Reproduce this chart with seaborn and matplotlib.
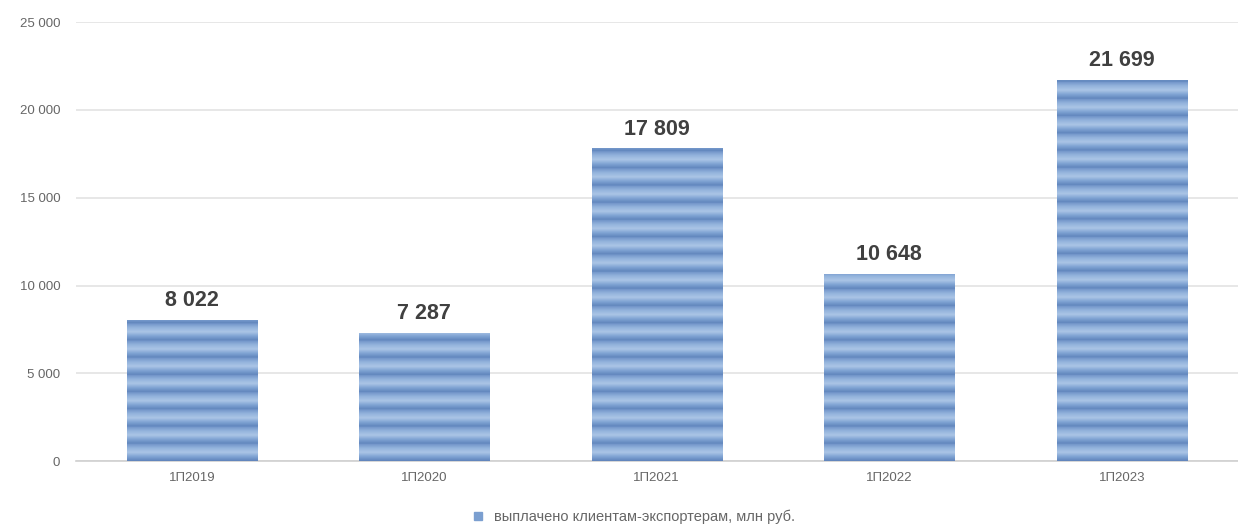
import numpy as np
import pandas as pd
import matplotlib
matplotlib.use("Agg")
import matplotlib.pyplot as plt
import seaborn as sns
from matplotlib.colors import LinearSegmentedColormap
from matplotlib.lines import Line2D

categories = ["1П2019", "1П2020", "1П2021", "1П2022", "1П2023"]
values = [8022, 7287, 17809, 10648, 21699]
yticks = [0, 5000, 10000, 15000, 20000, 25000]
series_label = "выплачено клиентам-экспортерам, млн руб."

df = pd.DataFrame({"cat": categories, "val": values})

sns.set_theme(style="white")
plt.rcParams["font.family"] = ["Liberation Sans", "DejaVu Sans"]

fig = plt.figure(figsize=(12.38, 5.27), dpi=100)
ax = fig.add_axes([0.061, 0.125, 0.939, 0.833])

sns.barplot(data=df, x="cat", y="val", color="#7b9fd0", width=0.56, ax=ax,
            saturation=1, zorder=2)

ax.set_ylim(0, 25000)
ax.set_xlim(-0.5, len(categories) - 0.5)

# striped fill
cmap = LinearSegmentedColormap.from_list(
    "stripe", ["#5f84bb", "#7fa3d3", "#abc5e6", "#93b3dc", "#7093c8"])
ys = np.linspace(0, 25000, 2000)
period = 980.0
phase = (ys % period) / period
stripe = phase[::-1].reshape(-1, 1)
for p in ax.patches:
    x0 = p.get_x()
    w = p.get_width()
    im = ax.imshow(stripe, extent=[x0, x0 + w, 0, 25000], aspect="auto",
                   cmap=cmap, origin="upper", zorder=3, interpolation="bilinear")
    im.set_clip_path(p)
    p.set_edgecolor("none")

ax.set_ylim(0, 25000)
ax.set_xlim(-0.5, len(categories) - 0.5)

ax.set_yticks(yticks)
ax.set_yticklabels([f"{t:,}".replace(",", " ") for t in yticks])
ax.yaxis.grid(True, color="#e3e3e3", linewidth=1.2, zorder=0)
ax.set_axisbelow(True)
for s in ["top", "right", "left"]:
    ax.spines[s].set_visible(False)
ax.spines["bottom"].set_color("#d0d0d0")
ax.spines["bottom"].set_linewidth(1.2)
ax.tick_params(axis="both", length=0, labelsize=9.5, labelcolor="#666666", pad=8)
ax.tick_params(axis="y", pad=11)
ax.set_xlabel("")
ax.set_ylabel("")

for i, v in enumerate(values):
    ax.text(i, v + 500, f"{v:,}".replace(",", " "), ha="center", va="bottom",
            fontsize=15.5, fontweight="bold", color="#404040", zorder=5)

handle = Line2D([], [], marker="s", linestyle="none", markersize=6,
                markerfacecolor="#7b9fd0", markeredgecolor="#7b9fd0")
fig.legend([handle], [series_label], loc="center", bbox_to_anchor=(0.508, 0.02),
           frameon=False, fontsize=10.5, labelcolor="#666666", handletextpad=0.1,
           borderaxespad=0)

fig.savefig("out.png", dpi=100)
